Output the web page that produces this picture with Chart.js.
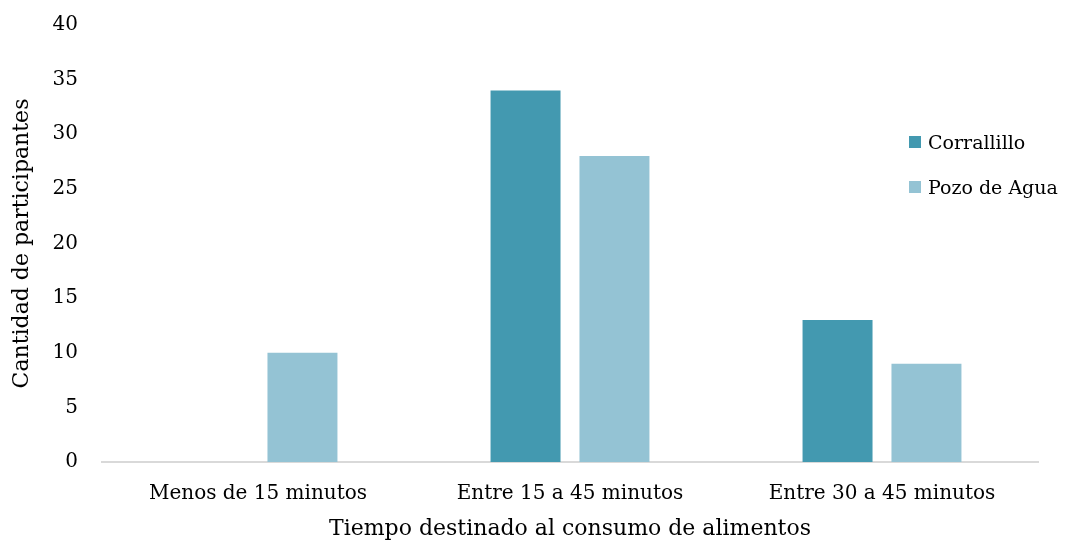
<!DOCTYPE html>
<html>
<head>
<meta charset="utf-8">
<script src="https://cdn.jsdelivr.net/npm/chart.js@4/dist/chart.umd.min.js"></script>
<style>
  html, body { margin: 0; padding: 0; background: #fff; }
  #wrap { position: relative; width: 1066px; height: 546px; }
  #legend { position: absolute; left: 909px; top: 119px; font-family: "DejaVu Serif", serif; font-size: 19px; color: #000; }
  #legend .item { display: flex; align-items: center; height: 45px; }
  #legend .box { width: 12px; height: 12px; margin-right: 7px; }
</style>
</head>
<body>
<div id="wrap">
  <canvas id="chart" width="1066" height="546"></canvas>
  <div id="legend"></div>
</div>
<script>
const categories = ['Menos de 15 minutos', 'Entre 15 a 45 minutos', 'Entre 30 a 45 minutos'];
const corralillo = [0, 34, 13];
const pozoDeAgua = [10, 28, 9];
const yTicks = [0, 5, 10, 15, 20, 25, 30, 35, 40];

const serif = '"DejaVu Serif", serif';

const chart = new Chart(document.getElementById('chart'), {
    type: 'bar',
    data: {
        labels: categories,
        datasets: [
            { label: 'Corrallillo', data: corralillo, backgroundColor: '#4399b0' },
            { label: 'Pozo de Agua', data: pozoDeAgua, backgroundColor: '#94c3d4' },
        ],
    },
    options: {
        responsive: false,
        animation: false,
        categoryPercentage: 0.57,
        barPercentage: 0.787,
        layout: { padding: { top: 25, right: 28, left: 0, bottom: 0 } },
        plugins: {
            legend: { display: false },
            tooltip: { enabled: false },
        },
        scales: {
            x: {
                grid: { display: false, drawTicks: false },
                border: { display: true, color: '#d9d9d9', width: 2 },
                ticks: { color: '#000', font: { family: serif, size: 20 }, padding: 20 },
                title: {
                    display: true,
                    text: 'Tiempo destinado al consumo de alimentos',
                    color: '#000',
                    font: { family: serif, size: 22 },
                    padding: { top: 0, bottom: 4 },
                },
                afterFit: (scale) => { scale.height = 84; },
            },
            y: {
                min: 0,
                max: 40,
                afterBuildTicks: (scale) => { scale.ticks = yTicks.map(v => ({ value: v })); },
                grid: { display: false, drawTicks: false },
                border: { display: false },
                ticks: { color: '#000', font: { family: serif, size: 20 }, padding: 24 },
                title: {
                    display: true,
                    text: 'Cantidad de participantes',
                    color: '#000',
                    font: { family: serif, size: 22 },
                    padding: { top: 9, bottom: 0 },
                },
                afterFit: (scale) => {
                    scale.width = 102;
                    // keep the plot top where the original has it
                    scale.paddingTop = 0;
                    scale.paddingBottom = 0;
                },
            },
        },
    },
});

// legend drawn as html, overlapping the plot like the original
const legendEl = document.getElementById('legend');
chart.data.datasets.forEach(ds => {
    const item = document.createElement('div');
    item.className = 'item';
    const box = document.createElement('span');
    box.className = 'box';
    box.style.background = ds.backgroundColor;
    const text = document.createElement('span');
    text.textContent = ds.label;
    item.appendChild(box);
    item.appendChild(text);
    legendEl.appendChild(item);
});
</script>
</body>
</html>
